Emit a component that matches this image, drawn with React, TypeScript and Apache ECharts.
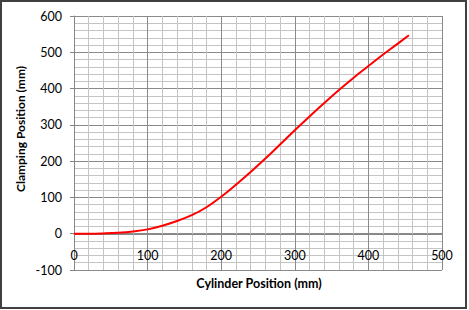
import React, { useEffect, useRef } from "react";
import * as echarts from "echarts";

const cylinderPos = [0, 20, 40, 60, 80, 100, 120, 140, 160, 180, 200, 220, 240, 260, 280, 300, 320, 340, 360, 380, 400, 420, 440, 455];
const clampingPos = [0, 0, 0.8, 2.5, 6, 12, 22, 35, 51, 73, 102, 135, 170, 207, 246, 285, 323, 360, 396, 430, 462, 494, 524, 547];

const xTitle = "Cylinder Position (mm)";
const yTitle = "Clamping Position (mm)";

export default function App() {
  const ref = useRef<HTMLDivElement>(null);
  useEffect(() => {
    const chart = echarts.init(ref.current!, null, { renderer: "svg" });
    const font = "Lato, 'Open Sans', sans-serif";
    chart.setOption({
      animation: false,
      backgroundColor: "#ffffff",
      grid: { left: 74, right: 27, top: 16, bottom: 40, containLabel: false },
      xAxis: {
        type: "value",
        min: 0,
        max: 500,
        interval: 100,
        offset: -36,
        axisLine: { show: true, onZero: false, lineStyle: { color: "#868686", width: 1 } },
        axisTick: { show: false },
        axisLabel: { color: "#000", fontFamily: font, fontSize: 12.5, margin: 15 },
        splitLine: { show: true, lineStyle: { color: "#8a8a8a", width: 1 } },
        minorTick: { show: false, splitNumber: 5 },
        minorSplitLine: { show: true, lineStyle: { color: "#c4c4c4", width: 1 } },
      },
      yAxis: {
        type: "value",
        min: -100,
        max: 600,
        interval: 100,
        axisLine: { show: true, onZero: false, lineStyle: { color: "#868686", width: 1 } },
        axisTick: { show: true, length: 4, lineStyle: { color: "#868686" } },
        axisLabel: { color: "#000", fontFamily: font, fontSize: 12.5, margin: 12 },
        splitLine: { show: true, lineStyle: { color: "#8a8a8a", width: 1 } },
        minorTick: { show: false, splitNumber: 5 },
        minorSplitLine: { show: true, lineStyle: { color: "#c4c4c4", width: 1 } },
      },
      series: [
        {
          type: "line",
          data: cylinderPos.map((x, i) => [x, clampingPos[i]]),
          smooth: 0.4,
          showSymbol: false,
          lineStyle: { color: "#ff0000", width: 2 },
        },
      ],
      graphic: [
        {
          type: "rect",
          shape: { x: 1, y: 1, width: 465, height: 307 },
          style: { fill: "none", stroke: "#404040", lineWidth: 2 },
          z: 100,
        },
        {
          type: "text",
          x: 259,
          y: 283,
          style: { text: xTitle, font: `bold 12.5px ${font}`, fill: "#000", align: "center", verticalAlign: "middle" },
        },
        {
          type: "text",
          x: 20,
          y: 129,
          rotation: Math.PI / 2,
          style: { text: yTitle, font: `bold 12px ${font}`, fill: "#000", align: "center", verticalAlign: "middle" },
        },
      ],
    });
    return () => chart.dispose();
  }, []);
  return <div ref={ref} style={{ width: 469, height: 310, position: "absolute", left: 0, top: 0 }} />;
}
